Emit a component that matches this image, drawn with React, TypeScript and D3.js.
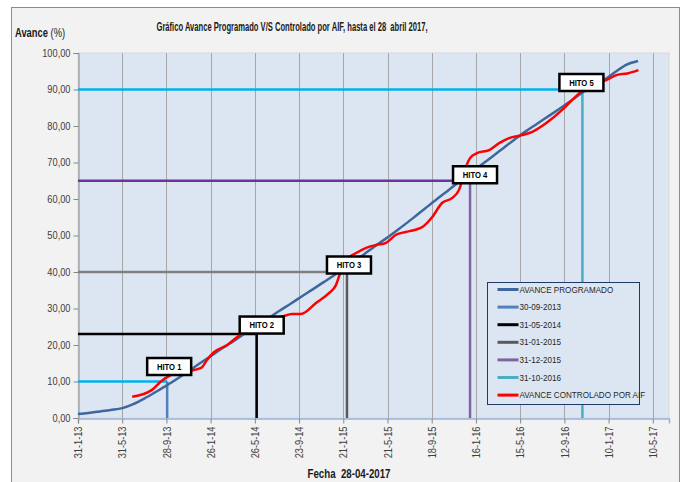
import React, { useRef, useEffect } from 'react';
import * as d3 from 'd3';

// Avance programado (month ends)
const programadoDates = [
  '2013-01-31', '2013-02-28', '2013-03-31', '2013-04-30', '2013-05-31', '2013-06-30',
  '2013-07-31', '2013-08-31', '2013-09-30', '2013-10-31', '2013-11-30', '2013-12-31',
  '2014-01-31', '2014-02-28', '2014-03-31', '2014-04-30', '2014-05-31', '2014-06-30',
  '2014-07-31', '2014-08-31', '2014-09-30', '2014-10-31', '2014-11-30', '2014-12-31',
  '2015-01-31', '2015-02-28', '2015-03-31', '2015-04-30', '2015-05-31', '2015-06-30',
  '2015-07-31', '2015-08-31', '2015-09-30', '2015-10-31', '2015-11-30', '2015-12-31',
  '2016-01-31', '2016-02-29', '2016-03-31', '2016-04-30', '2016-05-31', '2016-06-30',
  '2016-07-31', '2016-08-31', '2016-09-30', '2016-10-31', '2016-11-30', '2016-12-31',
  '2017-01-31', '2017-02-28', '2017-03-31'
];
const programadoValues = [
  1.1, 1.4, 1.8, 2.2, 2.7, 3.8, 5.4, 7.2, 9.0, 11.0, 13.0, 15.2,
  17.3, 19.2, 21.2, 23.2, 25.2, 27.2, 29.3, 31.3, 33.3, 35.3, 37.3, 39.4,
  41.6, 43.5, 45.8, 48.0, 50.2, 52.5, 54.9, 57.4, 59.8, 62.2, 64.6, 67.0,
  69.4, 71.6, 74.0, 76.3, 78.6, 80.6, 82.7, 84.8, 86.9, 89.2, 91.0, 92.8,
  95.0, 96.8, 97.8
];

// Avance controlado por AIF
const controladoDates = [
  '2013-06-27', '2013-08-20', '2013-09-13', '2013-10-11', '2013-11-28', '2013-12-31',
  '2014-01-16', '2014-02-04', '2014-03-12', '2014-04-08', '2014-04-27', '2014-05-27',
  '2014-07-04', '2014-08-08', '2014-09-04', '2014-09-28', '2014-11-08', '2014-12-13',
  '2015-01-01', '2015-01-12', '2015-01-23', '2015-02-06', '2015-02-25', '2015-03-24',
  '2015-04-20', '2015-05-17', '2015-06-13', '2015-07-11', '2015-08-23', '2015-09-19',
  '2015-10-16', '2015-11-13', '2015-12-01', '2015-12-10', '2015-12-20', '2015-12-31',
  '2016-01-19', '2016-02-21', '2016-03-19', '2016-04-15', '2016-05-21', '2016-06-17',
  '2016-07-25', '2016-09-06', '2016-10-03', '2016-10-30', '2016-12-02', '2017-01-04',
  '2017-02-02', '2017-03-02', '2017-04-01'
];
const controladoValues = [
  5.8, 7.7, 10.0, 11.8, 12.9, 13.7,
  15.9, 18.0, 20.0, 22.2, 23.6, 25.5,
  27.0, 27.8, 28.5, 28.5, 31.5, 34.2,
  36.4, 39.5, 42.0, 44.0, 45.2, 46.6,
  47.4, 48.0, 50.2, 51.0, 52.3, 55.0,
  58.9, 60.3, 62.5, 65.2, 68.8, 71.2,
  72.6, 73.4, 75.3, 76.7, 77.5, 78.4,
  80.8, 84.4, 87.1, 89.6, 91.5, 92.6,
  94.0, 94.4, 95.3
];

// Hitos
const hitoNames = ['HITO 1', 'HITO 2', 'HITO 3', 'HITO 4', 'HITO 5'];
const hitoDates = ['30-09-2013', '31-05-2014', '31-01-2015', '31-12-2015', '31-10-2016'];
const hitoValues = [10, 23, 40, 65, 90];

const xTickLabels = [
  '31-1-13', '31-5-13', '28-9-13', '26-1-14', '26-5-14', '23-9-14', '21-1-15',
  '21-5-15', '18-9-15', '16-1-16', '15-5-16', '12-9-16', '10-1-17', '10-5-17'
];
const yTicks = [0, 10, 20, 30, 40, 50, 60, 70, 80, 90, 100];

const legendLabels = [
  'AVANCE PROGRAMADO', '30-09-2013', '31-05-2014', '31-01-2015',
  '31-12-2015', '31-10-2016', 'AVANCE CONTROLADO POR AIF'
];

const title = 'Gráfico Avance Programado V/S Controlado por AIF, hasta el 28  abril 2017,';

export default function App() {
  const svgRef = useRef(null);

  useEffect(() => {
    const width = 683;
    const height = 482;
    const svg = d3.select(svgRef.current);
    svg.selectAll('*').remove();
    svg.attr('width', width).attr('height', height);

    const font = "'Liberation Sans Narrow', 'Arial Narrow', 'Liberation Sans', Arial, sans-serif";
    const parseIso = d3.utcParse('%Y-%m-%d');
    const parseHito = d3.utcParse('%d-%m-%Y');
    const parseTick = d3.utcParse('%d-%m-%y');

    // squeeze text to look like a narrow font
    const narrow = (sel, f) => sel.each(function () {
      const l = this.getComputedTextLength();
      d3.select(this).attr('textLength', l * f).attr('lengthAdjust', 'spacingAndGlyphs');
    });

    const left = 78, right = 669, top = 53, bottom = 418;

    const x = d3.scaleUtc()
      .domain([parseIso('2013-01-31'), parseIso('2017-06-23')])
      .range([left, right]);
    const y = d3.scaleLinear().domain([0, 100]).range([bottom, top]);

    const colors = {
      programado: '#3e679c',
      h1: '#4f81bd',
      h2: '#000000',
      h3: '#5a5a5a',
      h4: '#8064a2',
      h5: '#4bacc6',
      controlado: '#ff0000'
    };
    const hLineColors = ['#00b0f0', '#000000', '#7f7f7f', '#7030a0', '#00b0f0'];
    const vLineColors = [colors.h1, colors.h2, colors.h3, colors.h4, colors.h5];

    // chart area
    svg.append('rect')
      .attr('x', 11.5).attr('y', 7.5)
      .attr('width', 668).attr('height', 500)
      .attr('fill', '#f2f2f2').attr('stroke', '#8c8c8c');

    svg.append('rect')
      .attr('x', left).attr('y', top)
      .attr('width', right - left).attr('height', bottom - top)
      .attr('fill', '#dce6f2').attr('stroke', '#d9d9d9');

    // vertical gridlines
    const tickDates = xTickLabels.map(t => parseTick(t));
    svg.append('g')
      .selectAll('line')
      .data(tickDates.slice(1))
      .enter()
      .append('line')
      .attr('x1', d => Math.round(x(d)) + 0.5)
      .attr('x2', d => Math.round(x(d)) + 0.5)
      .attr('y1', top)
      .attr('y2', bottom)
      .attr('stroke', '#a6a6a6')
      .attr('stroke-width', 1);

    // y axis
    const comma = v => d3.format('.2f')(v).replace('.', ',');
    const yAxis = svg.append('g')
      .attr('transform', `translate(${left + 0.5},0)`)
      .call(d3.axisLeft(y).tickValues(yTicks).tickFormat(comma).tickSizeOuter(0).tickSize(5).tickPadding(3));
    yAxis.select('.domain').attr('stroke', '#868686');
    yAxis.selectAll('.tick line').attr('stroke', '#868686');
    yAxis.selectAll('.tick text')
      .attr('fill', '#404040')
      .style('font-family', font)
      .style('font-size', '10.5px');
    narrow(yAxis.selectAll('.tick text'), 0.88);

    // x axis
    const xAxis = svg.append('g')
      .attr('transform', `translate(0,${bottom + 0.5})`)
      .call(d3.axisBottom(x).tickValues(tickDates).tickFormat((d, i) => xTickLabels[i]).tickSizeOuter(0).tickSize(5));
    xAxis.select('.domain').attr('stroke', '#95b3d7').attr('stroke-width', 1.5);
    xAxis.selectAll('.tick line').attr('stroke', '#868686');
    xAxis.selectAll('.tick text')
      .attr('transform', 'rotate(-90)')
      .attr('x', -8)
      .attr('y', 0)
      .attr('dy', '0.35em')
      .style('text-anchor', 'end')
      .attr('fill', '#404040')
      .style('font-family', font)
      .style('font-size', '10.5px');
    narrow(xAxis.selectAll('.tick text'), 0.88);

    // hito lines
    const hitos = hitoNames.map((n, i) => ({
      name: n,
      date: parseHito(hitoDates[i]),
      value: hitoValues[i],
      hc: hLineColors[i],
      vc: vLineColors[i]
    }));

    svg.append('g')
      .selectAll('line')
      .data(hitos)
      .enter()
      .append('line')
      .attr('x1', left)
      .attr('x2', d => x(d.date))
      .attr('y1', d => y(d.value))
      .attr('y2', d => y(d.value))
      .attr('stroke', d => d.hc)
      .attr('stroke-width', 2.5);

    svg.append('g')
      .selectAll('line')
      .data(hitos)
      .enter()
      .append('line')
      .attr('x1', d => x(d.date))
      .attr('x2', d => x(d.date))
      .attr('y1', d => y(d.value))
      .attr('y2', bottom)
      .attr('stroke', d => d.vc)
      .attr('stroke-width', 2.5);

    // series
    const programado = programadoDates.map((d, i) => ({ date: parseIso(d), value: programadoValues[i] }));
    const controlado = controladoDates.map((d, i) => ({ date: parseIso(d), value: controladoValues[i] }));

    const line = d3.line()
      .x(d => x(d.date))
      .y(d => y(d.value))
      .curve(d3.curveMonotoneX);

    svg.append('path')
      .datum(programado)
      .attr('fill', 'none')
      .attr('stroke', colors.programado)
      .attr('stroke-width', 2.5)
      .attr('d', line);

    svg.append('path')
      .datum(controlado)
      .attr('fill', 'none')
      .attr('stroke', colors.controlado)
      .attr('stroke-width', 2.5)
      .attr('d', line);

    // legend
    const legendColors = [colors.programado, colors.h1, colors.h2, colors.h3, colors.h4, colors.h5, colors.controlado];
    const legend = svg.append('g').attr('transform', 'translate(487.5,282.5)');
    legend.append('rect')
      .attr('width', 152).attr('height', 122)
      .attr('fill', '#dce6f2').attr('stroke', '#1f3864');
    legendLabels.forEach((label, i) => {
      const ly = 7 + i * 17.6;
      legend.append('line')
        .attr('x1', 10).attr('x2', 31)
        .attr('y1', ly).attr('y2', ly)
        .attr('stroke', legendColors[i]).attr('stroke-width', 3);
      legend.append('text')
        .attr('x', 32).attr('y', ly)
        .attr('dy', '0.35em')
        .attr('fill', '#262626')
        .style('font-family', font)
        .style('font-size', '9px')
        .text(label);
    });
    narrow(legend.selectAll('text'), 0.9);

    // hito labels
    const labelNudge = [[2, -15], [5, -9], [2, -7], [5, -6], [-1, -7]];
    const labels = svg.append('g')
      .selectAll('g')
      .data(hitos)
      .enter()
      .append('g')
      .attr('transform', (d, i) => `translate(${x(d.date) + labelNudge[i][0]},${y(d.value) + labelNudge[i][1]})`);
    labels.append('rect')
      .attr('x', -22).attr('y', -8.5)
      .attr('width', 44).attr('height', 17)
      .attr('fill', '#ffffff')
      .attr('stroke', '#000000')
      .attr('stroke-width', 2.5);
    labels.append('text')
      .attr('text-anchor', 'middle')
      .attr('dy', '0.35em')
      .style('font-family', font)
      .style('font-size', '9px')
      .style('font-weight', 'bold')
      .text(d => d.name);
    narrow(labels.selectAll('text'), 0.85);

    // title and axis titles
    svg.append('text')
      .attr('x', 292)
      .attr('y', 31)
      .attr('text-anchor', 'middle')
      .attr('textLength', 271)
      .attr('lengthAdjust', 'spacingAndGlyphs')
      .style('white-space', 'pre')
      .style('font-family', font)
      .style('font-size', '12px')
      .style('font-weight', 'bold')
      .attr('fill', '#1a1a1a')
      .text(title);

    const yTitle = svg.append('g')
      .attr('transform', 'translate(15,37) scale(0.78,1)')
      .append('text')
      .style('font-family', font)
      .style('font-size', '12px')
      .attr('fill', '#1a1a1a');
    yTitle.append('tspan').style('font-weight', 'bold').text('Avance ');
    yTitle.append('tspan').text('(%)');

    svg.append('text')
      .attr('x', 349)
      .attr('y', 478)
      .attr('text-anchor', 'middle')
      .attr('textLength', 83)
      .attr('lengthAdjust', 'spacingAndGlyphs')
      .style('white-space', 'pre')
      .style('font-family', font)
      .style('font-size', '12px')
      .style('font-weight', 'bold')
      .attr('fill', '#1a1a1a')
      .text('Fecha  28-04-2017');
  }, []);

  return (
    <svg ref={svgRef} style={{ position: 'absolute', left: 0, top: 0, display: 'block' }}></svg>
  );
}
